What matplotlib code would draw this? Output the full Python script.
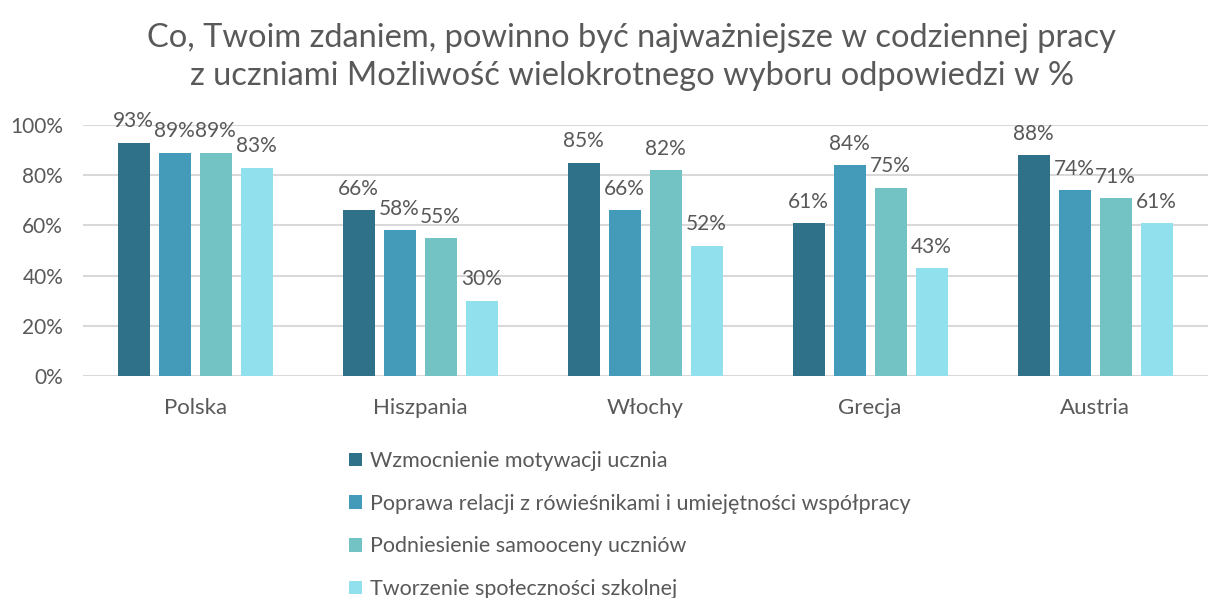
import numpy as np
import matplotlib.pyplot as plt

plt.rcParams['font.family'] = ['Lato', 'DejaVu Sans']

kraje = ["Polska", "Hiszpania", "Włochy", "Grecja", "Austria"]
serie = ["Wzmocnienie motywacji ucznia",
         "Poprawa relacji z rówieśnikami i umiejętności współpracy",
         "Podniesienie samooceny uczniów",
         "Tworzenie społeczności szkolnej"]
motywacja = [93, 66, 85, 61, 88]
relacje = [89, 58, 66, 84, 74]
samoocena = [89, 55, 82, 75, 71]
spolecznosc = [83, 30, 52, 43, 61]
kolory = ["#2E7189", "#439AB9", "#74C3C4", "#91E0ED"]
szary = "#595959"

dane = [motywacja, relacje, samoocena, spolecznosc]

fig = plt.figure(figsize=(12.15, 5.98), dpi=100)
ax = fig.add_axes([0.068, 0.371, 0.926, 0.42])

x = np.arange(len(kraje))
w = 0.142
krok = 0.182
for i, (vals, c, lab) in enumerate(zip(dane, kolory, serie)):
    pos = x + (i - 1.5) * krok
    bars = ax.bar(pos, vals, width=w, color=c, label=lab, zorder=3)
    for b, v in zip(bars, vals):
        ax.text(b.get_x() + b.get_width() / 2, v + 4.5, f"{v}%", ha="center",
                va="bottom", fontsize=15, color=szary)

ax.set_xlim(-0.5, len(kraje) - 0.5)
ax.set_ylim(0, 100)
ax.set_yticks(range(0, 101, 20))
ax.set_yticklabels([f"{v}%" for v in range(0, 101, 20)])
ax.set_xticks(x)
ax.set_xticklabels(kraje)
ax.yaxis.grid(True, color="#D9D9D9", linewidth=1.5, zorder=0)
ax.tick_params(length=0, labelsize=15, colors=szary)
ax.tick_params(axis="x", pad=16, labelsize=16)
ax.tick_params(axis="y", pad=14)
for s in ax.spines.values():
    s.set_visible(False)
ax.set_axisbelow(True)

fig.suptitle("Co, Twoim zdaniem, powinno być najważniejsze w codziennej pracy\n"
             "z uczniami Możliwość wielokrotnego wyboru odpowiedzi w %",
             x=0.52, y=0.962, fontsize=23.5, color=szary, linespacing=1.35)

fig.legend(loc="upper left", bbox_to_anchor=(0.28, 0.26), frameon=False,
           fontsize=15.5, labelcolor=szary, handlelength=0.6, handleheight=0.6,
           handletextpad=0.4, labelspacing=1.05, borderaxespad=0)

fig.savefig("out.png", dpi=100)
